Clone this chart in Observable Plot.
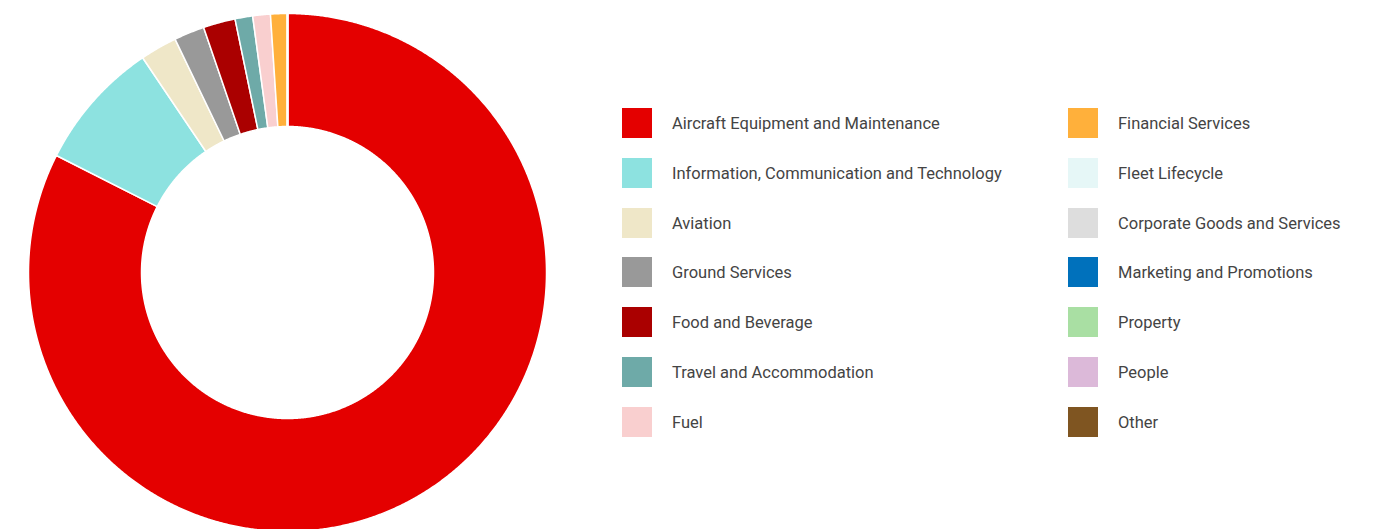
<!DOCTYPE html>
<html><head><meta charset="utf-8">
<script src="https://cdn.jsdelivr.net/npm/d3@7"></script>
<script src="https://cdn.jsdelivr.net/npm/@observablehq/plot@0.6"></script>
<style>
body{margin:0;background:#fff;font-family:Roboto, "Open Sans", sans-serif;}
#wrap{position:relative;width:1377px;height:529px;overflow:hidden}
#chart{position:absolute;left:0;top:0}
#legend{position:absolute;left:622px;top:108px;display:grid;grid-template-columns:446px 300px;grid-auto-flow:column;grid-template-rows:repeat(7,49.8px)}
.item{display:flex;align-items:flex-start}
.sw{width:30px;height:30px;margin-right:20px;flex:none}
.lb{font-size:16.5px;color:#444;line-height:30px;padding-top:1px;white-space:nowrap}
</style>
</head><body>
<div id="wrap"><div id="chart"></div><div id="legend"></div></div>
<script>
const categories = ["Aircraft Equipment and Maintenance","Information, Communication and Technology","Aviation","Ground Services","Food and Beverage","Travel and Accommodation","Fuel","Financial Services","Fleet Lifecycle","Corporate Goods and Services","Marketing and Promotions","Property","People","Other"];
const values = [82.5, 8.1, 2.3, 1.9, 2.0, 1.1, 1.1, 1.05, 0, 0, 0, 0, 0, 0];
const colors = ["#e40000","#8de2e0","#efe7c8","#999999","#aa0000","#6eaaa8","#f9cfcf","#ffb03b","#e6f7f7","#dddddd","#0071bc","#a9dfa3","#dcb9d9","#7f5521"];

const data = categories.map((name, i) => ({name, value: values[i]}));
const inner = 146 / 259;
const arcs = d3.pie().sort(null).value(d => d.value)(data);
const pts = [];
for (const a of arcs) {
  const n = Math.max(2, Math.ceil((a.endAngle - a.startAngle) / 0.005));
  for (let k = 0; k <= n; k++) {
    const t = a.startAngle + (a.endAngle - a.startAngle) * k / n;
    pts.push({name: a.data.name, x: Math.sin(t), y: Math.cos(t)});
  }
  for (let k = n; k >= 0; k--) {
    const t = a.startAngle + (a.endAngle - a.startAngle) * k / n;
    pts.push({name: a.data.name, x: inner * Math.sin(t), y: inner * Math.cos(t)});
  }
}

const chart = Plot.plot({
  width: 600, height: 529, margin: 0,
  x: {domain: [-287/259, 313/259], axis: null},
  y: {domain: [-257/259, 272/259], axis: null},
  color: {domain: categories, range: colors},
  marks: [
    Plot.line(pts, {x: "x", y: "y", z: "name", fill: "name", stroke: "white", strokeWidth: 1.5, curve: "linear-closed"})
  ]
});
document.getElementById("chart").appendChild(chart);

const legend = document.getElementById("legend");
categories.forEach((c, i) => {
  const it = document.createElement("div");
  it.className = "item";
  it.innerHTML = `<div class="sw" style="background:${colors[i]}"></div><div class="lb">${c}</div>`;
  legend.appendChild(it);
});
</script>
</body></html>
